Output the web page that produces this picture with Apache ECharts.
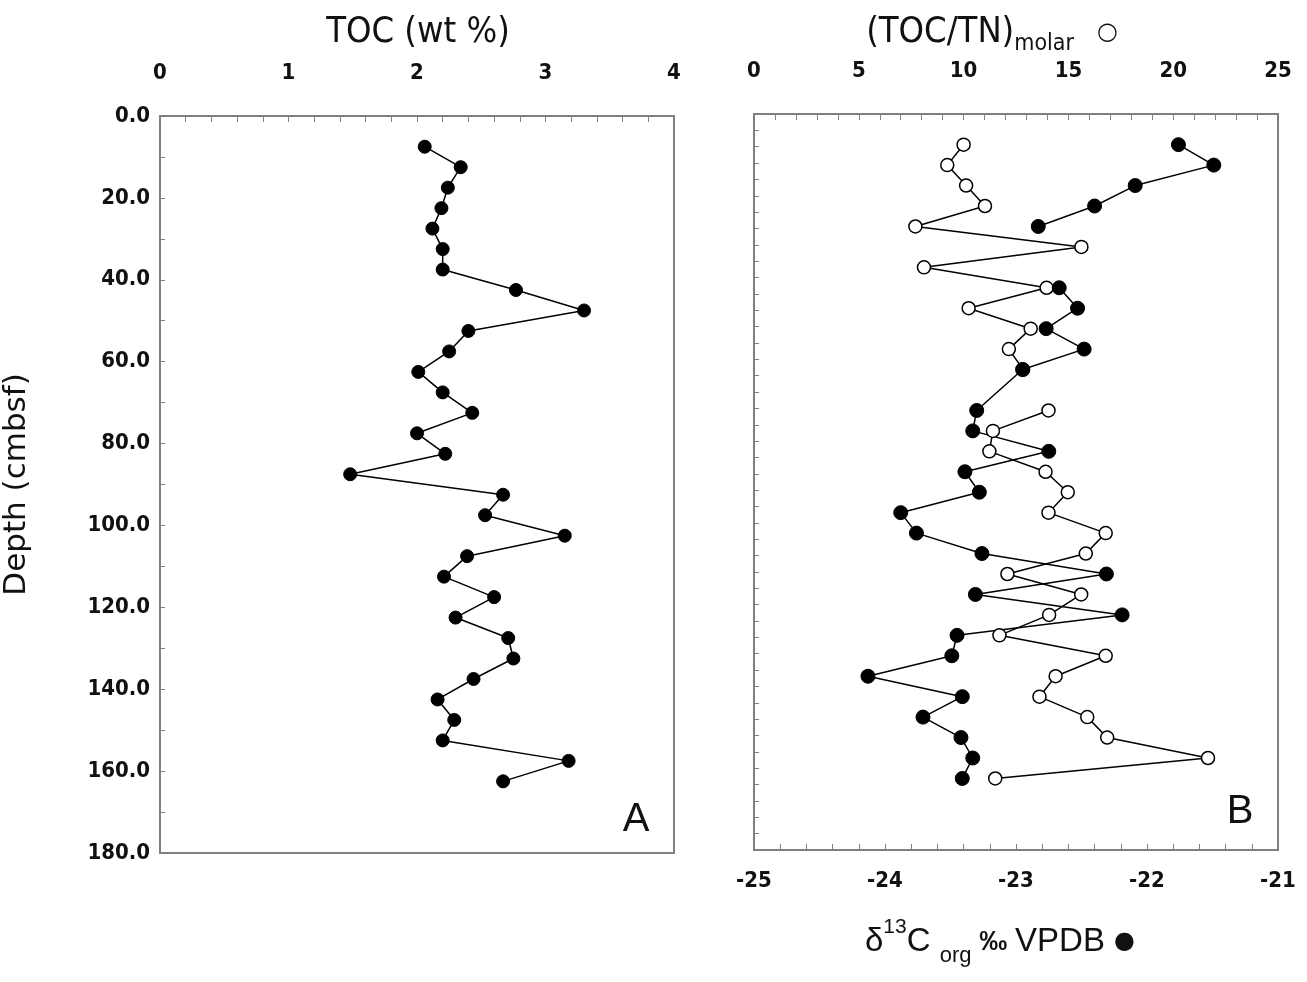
<!DOCTYPE html>
<html>
<head>
<meta charset="utf-8">
<title>TOC, TOC/TN and d13C vs depth</title>
<script src="https://cdn.jsdelivr.net/npm/echarts@6/dist/echarts.min.js"></script>
<style>
  html, body { margin: 0; padding: 0; background: #fff; }
  #chart { width: 1307px; height: 982px; }
</style>
</head>
<body>
<div id="chart"></div>
<script>
// panel A: TOC (wt %) against depth (cmbsf)
var depthA = [7.5, 12.5, 17.5, 22.5, 27.5, 32.5, 37.5, 42.5, 47.5, 52.5, 57.5, 62.5, 67.5, 72.5, 77.5, 82.5,
  87.5, 92.5, 97.5, 102.5, 107.5, 112.5, 117.5, 122.5, 127.5, 132.5, 137.5, 142.5, 147.5, 152.5, 157.5, 162.5];
var tocA = [2.06, 2.34, 2.24, 2.19, 2.12, 2.20, 2.20, 2.77, 3.30, 2.40, 2.25, 2.01, 2.20, 2.43, 2.00, 2.22,
  1.48, 2.67, 2.53, 3.15, 2.39, 2.21, 2.60, 2.30, 2.71, 2.75, 2.44, 2.16, 2.29, 2.20, 3.18, 2.67];

// panel B: (TOC/TN) molar, open circles - the line breaks at 67.5
var depthRatioUpper = [7.5, 12.5, 17.5, 22.5, 27.5, 32.5, 37.5, 42.5, 47.5, 52.5, 57.5, 62.5];
var ratioUpper = [10.0, 9.22, 10.12, 11.02, 7.70, 15.62, 8.11, 13.96, 10.24, 13.20, 12.16, 12.84];
var depthRatioLower = [72.5, 77.5, 82.5, 87.5, 92.5, 97.5, 102.5, 107.5, 112.5, 117.5, 122.5, 127.5,
  132.5, 137.5, 142.5, 147.5, 152.5, 157.5, 162.5];
var ratioLower = [14.05, 11.40, 11.23, 13.91, 14.97, 14.05, 16.78, 15.83, 12.09, 15.61, 14.08, 11.71,
  16.78, 14.39, 13.62, 15.90, 16.85, 21.66, 11.51];

// panel B: d13C org, filled circles - no values at 32.5 and 37.5
var depthD13cUpper = [7.5, 12.5, 17.5, 22.5, 27.5];
var d13cUpper = [-21.76, -21.49, -22.09, -22.40, -22.83];
var depthD13cLower = [42.5, 47.5, 52.5, 57.5, 62.5, 72.5, 77.5, 82.5, 87.5, 92.5, 97.5, 102.5, 107.5,
  112.5, 117.5, 122.5, 127.5, 132.5, 137.5, 142.5, 147.5, 152.5, 157.5, 162.5];
var d13cLower = [-22.67, -22.53, -22.77, -22.48, -22.95, -23.30, -23.33, -22.75, -23.39, -23.28, -23.88,
  -23.76, -23.26, -22.31, -23.31, -22.19, -23.45, -23.49, -24.13, -23.41, -23.71, -23.42, -23.33, -23.41];

var gray = '#808080';
var tickFont = 'DejaVu Sans Condensed';
var narrow = 'DejaVu Sans Condensed';

function pairs(xs, ys) {
  var out = [];
  for (var i = 0; i < xs.length; i++) {
    out.push([xs[i], ys[i]]);
  }
  return out;
}

function valueAxis(opts) {
  var ax = {
    type: 'value',
    scale: false,
    splitLine: { show: false },
    minorSplitLine: { show: false },
    axisLine: { show: true, onZero: false, lineStyle: { color: gray, width: 2 } },
    axisTick: { show: true, inside: true, length: 6, lineStyle: { color: gray, width: 1 } },
    minorTick: { show: true, splitNumber: 5, length: 6, lineStyle: { color: gray, width: 1 } },
    axisLabel: {
      show: true,
      color: '#111',
      fontFamily: tickFont,
      fontWeight: 'bold',
      fontSize: 22
    }
  };
  for (var k in opts) {
    if (typeof opts[k] === 'object' && ax[k] && !Array.isArray(opts[k])) {
      for (var j in opts[k]) ax[k][j] = opts[k][j];
    } else {
      ax[k] = opts[k];
    }
  }
  return ax;
}

var lineStyle = { color: '#000', width: 1.5 };
var filled = { color: '#000', borderColor: '#000', borderWidth: 1 };
var hollow = { color: '#fff', borderColor: '#000', borderWidth: 1.5 };

var chart = echarts.init(document.getElementById('chart'));

var option = {
  animation: false,
  backgroundColor: '#fff',
  grid: [
    { left: 160, width: 514, top: 116, height: 737, show: true, borderColor: gray, borderWidth: 2 },
    { left: 754, width: 524, top: 114, height: 736, show: true, borderColor: gray, borderWidth: 2 }
  ],
  xAxis: [
    valueAxis({ gridIndex: 0, position: 'top', min: 0, max: 4, interval: 1,
      axisLabel: { margin: 32 } }),
    valueAxis({ gridIndex: 1, position: 'top', min: 0, max: 25, interval: 5,
      axisLabel: { margin: 32 } }),
    valueAxis({ gridIndex: 1, position: 'bottom', min: -25, max: -21, interval: 1,
      axisLabel: { margin: 20 } })
  ],
  yAxis: [
    valueAxis({ gridIndex: 0, min: 0, max: 180, interval: 20, inverse: true,
      minorTick: { splitNumber: 2, length: 5 },
      axisTick: { length: 5 },
      axisLabel: { margin: 10, formatter: function (v) { return v.toFixed(1); } },
      name: 'Depth (cmbsf)', nameLocation: 'middle', nameGap: 128, nameRotate: 90,
      nameTextStyle: { fontFamily: 'DejaVu Sans', fontSize: 31, color: '#111' } }),
    valueAxis({ gridIndex: 1, min: 0, max: 180, interval: 20, inverse: true,
      minorTick: { splitNumber: 5, length: 5 },
      axisTick: { length: 5 },
      axisLabel: { show: false } })
  ],
  graphic: [
    { type: 'text', x: 418, y: 33,
      style: { text: 'TOC (wt %)', fill: '#111', font: '36px "DejaVu Sans Condensed"',
        align: 'center', verticalAlign: 'middle' } },
    { type: 'text', x: 992, y: 33,
      style: {
        text: '{a|(TOC/TN)}{s|molar}{c|   ○}',
        align: 'center', verticalAlign: 'middle', fill: '#111',
        rich: {
          a: { fontFamily: narrow, fontSize: 36, lineHeight: 46, verticalAlign: 'middle' },
          s: { fontFamily: narrow, fontSize: 23, lineHeight: 46, verticalAlign: 'bottom' },
          c: { fontFamily: 'DejaVu Sans', fontSize: 24, lineHeight: 46, verticalAlign: 'middle' }
        }
      } },
    { type: 'text', x: 1000, y: 942,
      style: {
        text: '{a|δ}{p|13}{a|C }{s|org}{b| ‰ }{a|VPDB }{c|●}',
        align: 'center', verticalAlign: 'middle', fill: '#111',
        rich: {
          a: { fontFamily: 'Liberation Sans', fontSize: 33, lineHeight: 50, verticalAlign: 'middle' },
          p: { fontFamily: 'Liberation Sans', fontSize: 21, lineHeight: 50, verticalAlign: 'top' },
          s: { fontFamily: 'Liberation Sans', fontSize: 22, lineHeight: 50, verticalAlign: 'bottom' },
          b: { fontFamily: 'Liberation Sans', fontSize: 28, fontWeight: 'bold', lineHeight: 50, verticalAlign: 'middle' },
          c: { fontFamily: 'DejaVu Sans', fontSize: 24, lineHeight: 50, verticalAlign: 'middle' }
        }
      } },
    { type: 'text', x: 636, y: 820,
      style: { text: 'A', fill: '#111', font: '40px "Liberation Sans"', align: 'center', verticalAlign: 'middle' } },
    { type: 'text', x: 1240, y: 812,
      style: { text: 'B', fill: '#111', font: '40px "Liberation Sans"', align: 'center', verticalAlign: 'middle' } }
  ],
  series: [
    { name: 'TOC', type: 'line', xAxisIndex: 0, yAxisIndex: 0,
      data: pairs(tocA, depthA), symbol: 'circle', symbolSize: 13,
      itemStyle: filled, lineStyle: lineStyle },
    { name: 'TOC/TN upper', type: 'line', xAxisIndex: 1, yAxisIndex: 1,
      data: pairs(ratioUpper, depthRatioUpper), symbol: 'circle', symbolSize: 13,
      itemStyle: hollow, lineStyle: lineStyle },
    { name: 'TOC/TN lower', type: 'line', xAxisIndex: 1, yAxisIndex: 1,
      data: pairs(ratioLower, depthRatioLower), symbol: 'circle', symbolSize: 13,
      itemStyle: hollow, lineStyle: lineStyle },
    { name: 'd13C upper', type: 'line', xAxisIndex: 2, yAxisIndex: 1, z: 3,
      data: pairs(d13cUpper, depthD13cUpper), symbol: 'circle', symbolSize: 14,
      itemStyle: filled, lineStyle: lineStyle },
    { name: 'd13C lower', type: 'line', xAxisIndex: 2, yAxisIndex: 1, z: 3,
      data: pairs(d13cLower, depthD13cLower), symbol: 'circle', symbolSize: 14,
      itemStyle: filled, lineStyle: lineStyle }
  ]
};

chart.setOption(option);
</script>
</body>
</html>
